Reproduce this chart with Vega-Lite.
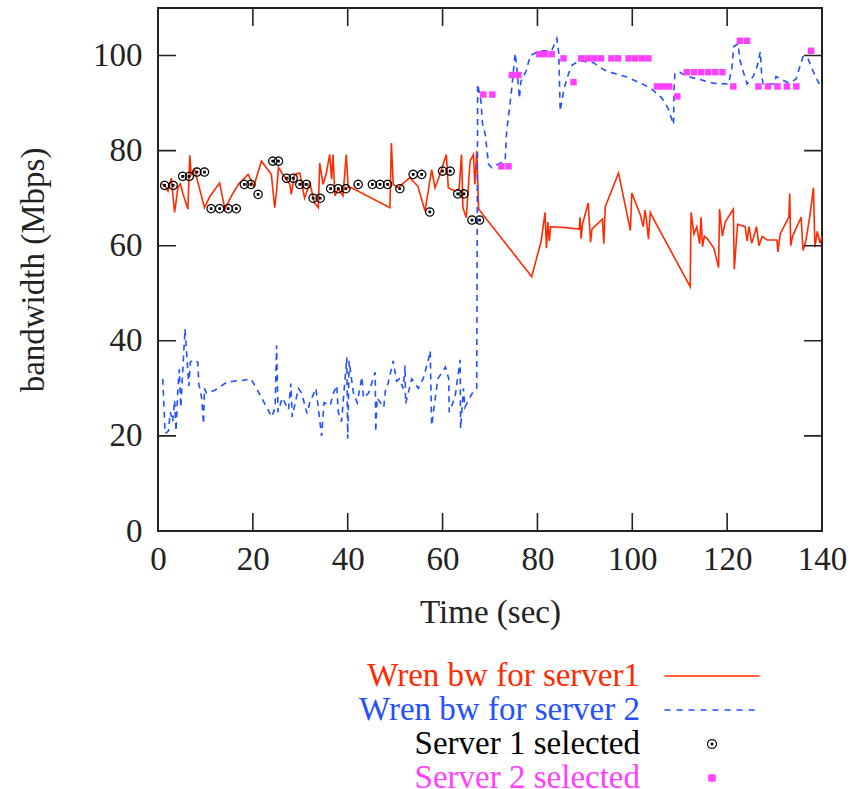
{
  "$schema": "https://vega.github.io/schema/vega-lite/v6.json",
  "width": 664,
  "height": 523,
  "autosize": {"type": "none"},
  "padding": {"left": 158, "top": 8, "right": 31, "bottom": 258},
  "background": "white",
  "config": {
    "view": {"stroke": "#222222", "strokeWidth": 2},
    "font": "Liberation Serif",
    "axis": {
      "grid": false,
      "domain": false,
      "ticks": false,
      "labelFont": "Liberation Serif",
      "labelFontSize": 33,
      "labelColor": "#222222",
      "labelFlush": false,
      "titleFont": "Liberation Serif",
      "titleFontSize": 33,
      "titleFontWeight": "normal",
      "titleColor": "#222222"
    },
    "legend": {
      "orient": "none",
      "legendX": 537.5,
      "legendY": 651.5,
      "title": null,
      "padding": 0,
      "labelFont": "Liberation Serif",
      "labelFontSize": 33,
      "labelAlign": "right",
      "labelOffset": -88.5,
      "labelLimit": 500,
      "rowPadding": 0
    }
  },
  "datasets": {
    "xt": [{"t": 0}, {"t": 20}, {"t": 40}, {"t": 60}, {"t": 80}, {"t": 100}, {"t": 120}, {"t": 140}],
    "yt": [{"v": 0}, {"v": 20}, {"v": 40}, {"v": 60}, {"v": 80}, {"v": 100}],
    "bw": [
      {"t": 0.8, "v": 73, "series": "Wren bw for server1"},
      {"t": 1.5, "v": 72.5, "series": "Wren bw for server1"},
      {"t": 2.1, "v": 71.5, "series": "Wren bw for server1"},
      {"t": 2.8, "v": 74.2, "series": "Wren bw for server1"},
      {"t": 3.5, "v": 67, "series": "Wren bw for server1"},
      {"t": 4.2, "v": 72.2, "series": "Wren bw for server1"},
      {"t": 4.7, "v": 73, "series": "Wren bw for server1"},
      {"t": 5.3, "v": 70.8, "series": "Wren bw for server1"},
      {"t": 6.3, "v": 67.7, "series": "Wren bw for server1"},
      {"t": 6.7, "v": 79, "series": "Wren bw for server1"},
      {"t": 7.0, "v": 75, "series": "Wren bw for server1"},
      {"t": 7.7, "v": 76, "series": "Wren bw for server1"},
      {"t": 8.5, "v": 73, "series": "Wren bw for server1"},
      {"t": 9.8, "v": 68, "series": "Wren bw for server1"},
      {"t": 11.0, "v": 70.5, "series": "Wren bw for server1"},
      {"t": 13.0, "v": 73.2, "series": "Wren bw for server1"},
      {"t": 14.1, "v": 67.7, "series": "Wren bw for server1"},
      {"t": 15.5, "v": 70.5, "series": "Wren bw for server1"},
      {"t": 17.0, "v": 73, "series": "Wren bw for server1"},
      {"t": 19.0, "v": 75, "series": "Wren bw for server1"},
      {"t": 19.5, "v": 74, "series": "Wren bw for server1"},
      {"t": 20.2, "v": 72.5, "series": "Wren bw for server1"},
      {"t": 21.8, "v": 77.8, "series": "Wren bw for server1"},
      {"t": 23.9, "v": 75, "series": "Wren bw for server1"},
      {"t": 24.6, "v": 68, "series": "Wren bw for server1"},
      {"t": 25.0, "v": 71.5, "series": "Wren bw for server1"},
      {"t": 25.4, "v": 76.5, "series": "Wren bw for server1"},
      {"t": 26.3, "v": 75, "series": "Wren bw for server1"},
      {"t": 27.8, "v": 72.9, "series": "Wren bw for server1"},
      {"t": 28.1, "v": 70.8, "series": "Wren bw for server1"},
      {"t": 28.8, "v": 75, "series": "Wren bw for server1"},
      {"t": 29.9, "v": 75.3, "series": "Wren bw for server1"},
      {"t": 30.9, "v": 70, "series": "Wren bw for server1"},
      {"t": 32.0, "v": 73.2, "series": "Wren bw for server1"},
      {"t": 33.0, "v": 69, "series": "Wren bw for server1"},
      {"t": 33.8, "v": 68, "series": "Wren bw for server1"},
      {"t": 34.1, "v": 77.4, "series": "Wren bw for server1"},
      {"t": 34.8, "v": 72.9, "series": "Wren bw for server1"},
      {"t": 35.5, "v": 75.3, "series": "Wren bw for server1"},
      {"t": 36.2, "v": 79.2, "series": "Wren bw for server1"},
      {"t": 36.6, "v": 74, "series": "Wren bw for server1"},
      {"t": 36.9, "v": 79.2, "series": "Wren bw for server1"},
      {"t": 37.3, "v": 70.5, "series": "Wren bw for server1"},
      {"t": 38.0, "v": 72, "series": "Wren bw for server1"},
      {"t": 39.0, "v": 70.5, "series": "Wren bw for server1"},
      {"t": 39.7, "v": 79.2, "series": "Wren bw for server1"},
      {"t": 40.1, "v": 72.2, "series": "Wren bw for server1"},
      {"t": 40.8, "v": 72.2, "series": "Wren bw for server1"},
      {"t": 48.9, "v": 68, "series": "Wren bw for server1"},
      {"t": 49.2, "v": 81.6, "series": "Wren bw for server1"},
      {"t": 49.6, "v": 72.9, "series": "Wren bw for server1"},
      {"t": 50.6, "v": 72.2, "series": "Wren bw for server1"},
      {"t": 53.1, "v": 74.3, "series": "Wren bw for server1"},
      {"t": 54.8, "v": 72.5, "series": "Wren bw for server1"},
      {"t": 56.3, "v": 67.3, "series": "Wren bw for server1"},
      {"t": 57.7, "v": 76, "series": "Wren bw for server1"},
      {"t": 58.4, "v": 72.2, "series": "Wren bw for server1"},
      {"t": 59.1, "v": 74, "series": "Wren bw for server1"},
      {"t": 60.8, "v": 79.2, "series": "Wren bw for server1"},
      {"t": 61.2, "v": 72.2, "series": "Wren bw for server1"},
      {"t": 62.6, "v": 71.5, "series": "Wren bw for server1"},
      {"t": 63.5, "v": 72, "series": "Wren bw for server1"},
      {"t": 64.0, "v": 79.2, "series": "Wren bw for server1"},
      {"t": 64.3, "v": 68, "series": "Wren bw for server1"},
      {"t": 65.0, "v": 65.9, "series": "Wren bw for server1"},
      {"t": 65.8, "v": 77.8, "series": "Wren bw for server1"},
      {"t": 66.5, "v": 79.2, "series": "Wren bw for server1"},
      {"t": 66.8, "v": 72.9, "series": "Wren bw for server1"},
      {"t": 67.2, "v": 79.9, "series": "Wren bw for server1"},
      {"t": 67.6, "v": 67.7, "series": "Wren bw for server1"},
      {"t": 78.8, "v": 53.5, "series": "Wren bw for server1"},
      {"t": 80.8, "v": 61, "series": "Wren bw for server1"},
      {"t": 81.6, "v": 67, "series": "Wren bw for server1"},
      {"t": 81.9, "v": 59.5, "series": "Wren bw for server1"},
      {"t": 82.2, "v": 65, "series": "Wren bw for server1"},
      {"t": 82.5, "v": 61, "series": "Wren bw for server1"},
      {"t": 82.8, "v": 64, "series": "Wren bw for server1"},
      {"t": 86.0, "v": 63.8, "series": "Wren bw for server1"},
      {"t": 88.8, "v": 63.5, "series": "Wren bw for server1"},
      {"t": 89.0, "v": 66, "series": "Wren bw for server1"},
      {"t": 89.2, "v": 61.5, "series": "Wren bw for server1"},
      {"t": 89.5, "v": 64.5, "series": "Wren bw for server1"},
      {"t": 90.7, "v": 69, "series": "Wren bw for server1"},
      {"t": 91.2, "v": 60.7, "series": "Wren bw for server1"},
      {"t": 91.5, "v": 63.5, "series": "Wren bw for server1"},
      {"t": 93.7, "v": 65.6, "series": "Wren bw for server1"},
      {"t": 94.0, "v": 60.4, "series": "Wren bw for server1"},
      {"t": 94.3, "v": 68.2, "series": "Wren bw for server1"},
      {"t": 97.1, "v": 75.3, "series": "Wren bw for server1"},
      {"t": 99.6, "v": 63.2, "series": "Wren bw for server1"},
      {"t": 99.9, "v": 71.1, "series": "Wren bw for server1"},
      {"t": 101.7, "v": 66.5, "series": "Wren bw for server1"},
      {"t": 102.3, "v": 64, "series": "Wren bw for server1"},
      {"t": 102.7, "v": 67.5, "series": "Wren bw for server1"},
      {"t": 103.0, "v": 65.4, "series": "Wren bw for server1"},
      {"t": 103.4, "v": 61.4, "series": "Wren bw for server1"},
      {"t": 103.8, "v": 67, "series": "Wren bw for server1"},
      {"t": 104.5, "v": 65.6, "series": "Wren bw for server1"},
      {"t": 112.2, "v": 51.4, "series": "Wren bw for server1"},
      {"t": 112.4, "v": 67, "series": "Wren bw for server1"},
      {"t": 113.0, "v": 62.5, "series": "Wren bw for server1"},
      {"t": 113.6, "v": 64, "series": "Wren bw for server1"},
      {"t": 114.2, "v": 60.4, "series": "Wren bw for server1"},
      {"t": 114.5, "v": 66, "series": "Wren bw for server1"},
      {"t": 114.8, "v": 59.8, "series": "Wren bw for server1"},
      {"t": 115.2, "v": 62, "series": "Wren bw for server1"},
      {"t": 115.8, "v": 61.5, "series": "Wren bw for server1"},
      {"t": 117.2, "v": 59.5, "series": "Wren bw for server1"},
      {"t": 118.2, "v": 55.4, "series": "Wren bw for server1"},
      {"t": 118.4, "v": 67.7, "series": "Wren bw for server1"},
      {"t": 119.0, "v": 62, "series": "Wren bw for server1"},
      {"t": 119.6, "v": 65, "series": "Wren bw for server1"},
      {"t": 121.3, "v": 67.7, "series": "Wren bw for server1"},
      {"t": 121.5, "v": 55, "series": "Wren bw for server1"},
      {"t": 122.2, "v": 64.5, "series": "Wren bw for server1"},
      {"t": 123.8, "v": 64, "series": "Wren bw for server1"},
      {"t": 124.2, "v": 61, "series": "Wren bw for server1"},
      {"t": 124.6, "v": 64, "series": "Wren bw for server1"},
      {"t": 125.2, "v": 60.5, "series": "Wren bw for server1"},
      {"t": 126.2, "v": 64, "series": "Wren bw for server1"},
      {"t": 126.7, "v": 60, "series": "Wren bw for server1"},
      {"t": 127.4, "v": 62, "series": "Wren bw for server1"},
      {"t": 128.4, "v": 61.2, "series": "Wren bw for server1"},
      {"t": 130.5, "v": 61.2, "series": "Wren bw for server1"},
      {"t": 130.7, "v": 58.7, "series": "Wren bw for server1"},
      {"t": 131.2, "v": 62.5, "series": "Wren bw for server1"},
      {"t": 133.0, "v": 66, "series": "Wren bw for server1"},
      {"t": 133.2, "v": 71, "series": "Wren bw for server1"},
      {"t": 133.4, "v": 60, "series": "Wren bw for server1"},
      {"t": 133.8, "v": 62, "series": "Wren bw for server1"},
      {"t": 135.6, "v": 66, "series": "Wren bw for server1"},
      {"t": 136.0, "v": 59, "series": "Wren bw for server1"},
      {"t": 136.6, "v": 61, "series": "Wren bw for server1"},
      {"t": 137.4, "v": 66, "series": "Wren bw for server1"},
      {"t": 138.2, "v": 72.2, "series": "Wren bw for server1"},
      {"t": 138.5, "v": 59.7, "series": "Wren bw for server1"},
      {"t": 139.0, "v": 63, "series": "Wren bw for server1"},
      {"t": 139.6, "v": 60.5, "series": "Wren bw for server1"},
      {"t": 140.0, "v": 62, "series": "Wren bw for server1"},

      {"t": 1.0, "v": 32, "series": "Wren bw for server 2"},
      {"t": 1.5, "v": 20.5, "series": "Wren bw for server 2"},
      {"t": 2.2, "v": 21, "series": "Wren bw for server 2"},
      {"t": 2.6, "v": 25, "series": "Wren bw for server 2"},
      {"t": 3.1, "v": 23, "series": "Wren bw for server 2"},
      {"t": 3.5, "v": 27.5, "series": "Wren bw for server 2"},
      {"t": 3.8, "v": 21, "series": "Wren bw for server 2"},
      {"t": 4.2, "v": 30, "series": "Wren bw for server 2"},
      {"t": 4.5, "v": 34, "series": "Wren bw for server 2"},
      {"t": 4.8, "v": 26, "series": "Wren bw for server 2"},
      {"t": 5.7, "v": 42.5, "series": "Wren bw for server 2"},
      {"t": 6.0, "v": 38, "series": "Wren bw for server 2"},
      {"t": 6.5, "v": 30.5, "series": "Wren bw for server 2"},
      {"t": 6.8, "v": 35.5, "series": "Wren bw for server 2"},
      {"t": 7.5, "v": 36, "series": "Wren bw for server 2"},
      {"t": 8.4, "v": 35.5, "series": "Wren bw for server 2"},
      {"t": 8.6, "v": 31, "series": "Wren bw for server 2"},
      {"t": 9.2, "v": 28, "series": "Wren bw for server 2"},
      {"t": 9.6, "v": 22.5, "series": "Wren bw for server 2"},
      {"t": 9.8, "v": 30, "series": "Wren bw for server 2"},
      {"t": 10.2, "v": 29, "series": "Wren bw for server 2"},
      {"t": 12.0, "v": 29.6, "series": "Wren bw for server 2"},
      {"t": 14.5, "v": 31.3, "series": "Wren bw for server 2"},
      {"t": 15.9, "v": 31.5, "series": "Wren bw for server 2"},
      {"t": 18.0, "v": 31.7, "series": "Wren bw for server 2"},
      {"t": 19.6, "v": 32, "series": "Wren bw for server 2"},
      {"t": 21.2, "v": 29.2, "series": "Wren bw for server 2"},
      {"t": 22.6, "v": 26.6, "series": "Wren bw for server 2"},
      {"t": 24.0, "v": 24, "series": "Wren bw for server 2"},
      {"t": 24.7, "v": 26, "series": "Wren bw for server 2"},
      {"t": 25.0, "v": 39, "series": "Wren bw for server 2"},
      {"t": 25.3, "v": 25, "series": "Wren bw for server 2"},
      {"t": 26.2, "v": 28, "series": "Wren bw for server 2"},
      {"t": 27.5, "v": 25.5, "series": "Wren bw for server 2"},
      {"t": 28.0, "v": 31, "series": "Wren bw for server 2"},
      {"t": 28.3, "v": 24, "series": "Wren bw for server 2"},
      {"t": 29.6, "v": 30, "series": "Wren bw for server 2"},
      {"t": 30.3, "v": 29, "series": "Wren bw for server 2"},
      {"t": 31.4, "v": 24.7, "series": "Wren bw for server 2"},
      {"t": 32.0, "v": 27, "series": "Wren bw for server 2"},
      {"t": 33.3, "v": 30, "series": "Wren bw for server 2"},
      {"t": 34.5, "v": 20, "series": "Wren bw for server 2"},
      {"t": 35.0, "v": 27, "series": "Wren bw for server 2"},
      {"t": 36.3, "v": 26.4, "series": "Wren bw for server 2"},
      {"t": 37.0, "v": 29, "series": "Wren bw for server 2"},
      {"t": 37.7, "v": 30.6, "series": "Wren bw for server 2"},
      {"t": 38.0, "v": 25, "series": "Wren bw for server 2"},
      {"t": 38.7, "v": 23, "series": "Wren bw for server 2"},
      {"t": 39.8, "v": 36.5, "series": "Wren bw for server 2"},
      {"t": 40.0, "v": 19.4, "series": "Wren bw for server 2"},
      {"t": 40.3, "v": 35.8, "series": "Wren bw for server 2"},
      {"t": 40.8, "v": 32, "series": "Wren bw for server 2"},
      {"t": 41.2, "v": 29, "series": "Wren bw for server 2"},
      {"t": 42.0, "v": 27, "series": "Wren bw for server 2"},
      {"t": 43.0, "v": 32.4, "series": "Wren bw for server 2"},
      {"t": 43.3, "v": 28, "series": "Wren bw for server 2"},
      {"t": 44.4, "v": 29, "series": "Wren bw for server 2"},
      {"t": 45.8, "v": 33.4, "series": "Wren bw for server 2"},
      {"t": 45.9, "v": 20.8, "series": "Wren bw for server 2"},
      {"t": 46.2, "v": 28, "series": "Wren bw for server 2"},
      {"t": 47.6, "v": 26, "series": "Wren bw for server 2"},
      {"t": 48.0, "v": 30, "series": "Wren bw for server 2"},
      {"t": 48.5, "v": 31, "series": "Wren bw for server 2"},
      {"t": 49.6, "v": 35.8, "series": "Wren bw for server 2"},
      {"t": 50.3, "v": 31.5, "series": "Wren bw for server 2"},
      {"t": 50.9, "v": 32, "series": "Wren bw for server 2"},
      {"t": 51.7, "v": 30, "series": "Wren bw for server 2"},
      {"t": 52.1, "v": 34.8, "series": "Wren bw for server 2"},
      {"t": 52.2, "v": 26.8, "series": "Wren bw for server 2"},
      {"t": 53.5, "v": 32, "series": "Wren bw for server 2"},
      {"t": 54.9, "v": 30, "series": "Wren bw for server 2"},
      {"t": 55.9, "v": 32, "series": "Wren bw for server 2"},
      {"t": 57.0, "v": 36, "series": "Wren bw for server 2"},
      {"t": 57.4, "v": 37.9, "series": "Wren bw for server 2"},
      {"t": 57.7, "v": 22.2, "series": "Wren bw for server 2"},
      {"t": 59.0, "v": 32, "series": "Wren bw for server 2"},
      {"t": 60.6, "v": 34.5, "series": "Wren bw for server 2"},
      {"t": 61.3, "v": 32, "series": "Wren bw for server 2"},
      {"t": 61.4, "v": 25, "series": "Wren bw for server 2"},
      {"t": 62.6, "v": 28, "series": "Wren bw for server 2"},
      {"t": 63.7, "v": 36, "series": "Wren bw for server 2"},
      {"t": 63.8, "v": 21.5, "series": "Wren bw for server 2"},
      {"t": 64.4, "v": 30, "series": "Wren bw for server 2"},
      {"t": 64.7, "v": 26, "series": "Wren bw for server 2"},
      {"t": 66.2, "v": 28.9, "series": "Wren bw for server 2"},
      {"t": 67.2, "v": 30, "series": "Wren bw for server 2"},
      {"t": 67.4, "v": 94, "series": "Wren bw for server 2"},
      {"t": 68.1, "v": 90.3, "series": "Wren bw for server 2"},
      {"t": 68.4, "v": 85.8, "series": "Wren bw for server 2"},
      {"t": 69.0, "v": 83.4, "series": "Wren bw for server 2"},
      {"t": 69.7, "v": 77.1, "series": "Wren bw for server 2"},
      {"t": 70.4, "v": 76.4, "series": "Wren bw for server 2"},
      {"t": 73.2, "v": 78, "series": "Wren bw for server 2"},
      {"t": 73.5, "v": 84, "series": "Wren bw for server 2"},
      {"t": 74.2, "v": 89.7, "series": "Wren bw for server 2"},
      {"t": 74.6, "v": 93.2, "series": "Wren bw for server 2"},
      {"t": 75.3, "v": 100.5, "series": "Wren bw for server 2"},
      {"t": 75.6, "v": 98, "series": "Wren bw for server 2"},
      {"t": 75.9, "v": 94.5, "series": "Wren bw for server 2"},
      {"t": 76.2, "v": 91, "series": "Wren bw for server 2"},
      {"t": 76.5, "v": 94.5, "series": "Wren bw for server 2"},
      {"t": 77.6, "v": 96.7, "series": "Wren bw for server 2"},
      {"t": 78.5, "v": 100, "series": "Wren bw for server 2"},
      {"t": 80.5, "v": 101, "series": "Wren bw for server 2"},
      {"t": 83.0, "v": 101, "series": "Wren bw for server 2"},
      {"t": 84.1, "v": 103.6, "series": "Wren bw for server 2"},
      {"t": 84.5, "v": 100.5, "series": "Wren bw for server 2"},
      {"t": 84.8, "v": 88.3, "series": "Wren bw for server 2"},
      {"t": 85.6, "v": 93, "series": "Wren bw for server 2"},
      {"t": 86.5, "v": 96, "series": "Wren bw for server 2"},
      {"t": 87.3, "v": 98, "series": "Wren bw for server 2"},
      {"t": 89.0, "v": 98.9, "series": "Wren bw for server 2"},
      {"t": 91.8, "v": 98.5, "series": "Wren bw for server 2"},
      {"t": 94.0, "v": 97, "series": "Wren bw for server 2"},
      {"t": 96.0, "v": 96.3, "series": "Wren bw for server 2"},
      {"t": 98.9, "v": 95.5, "series": "Wren bw for server 2"},
      {"t": 101.7, "v": 94.2, "series": "Wren bw for server 2"},
      {"t": 103.8, "v": 93.2, "series": "Wren bw for server 2"},
      {"t": 106.2, "v": 91.1, "series": "Wren bw for server 2"},
      {"t": 107.5, "v": 89, "series": "Wren bw for server 2"},
      {"t": 108.7, "v": 85.5, "series": "Wren bw for server 2"},
      {"t": 108.8, "v": 93, "series": "Wren bw for server 2"},
      {"t": 109.0, "v": 96.3, "series": "Wren bw for server 2"},
      {"t": 110.0, "v": 96.5, "series": "Wren bw for server 2"},
      {"t": 111.6, "v": 95.6, "series": "Wren bw for server 2"},
      {"t": 114.5, "v": 94.9, "series": "Wren bw for server 2"},
      {"t": 117.0, "v": 94.2, "series": "Wren bw for server 2"},
      {"t": 120.3, "v": 94, "series": "Wren bw for server 2"},
      {"t": 121.0, "v": 97.4, "series": "Wren bw for server 2"},
      {"t": 121.4, "v": 101.9, "series": "Wren bw for server 2"},
      {"t": 122.3, "v": 102.5, "series": "Wren bw for server 2"},
      {"t": 122.7, "v": 99, "series": "Wren bw for server 2"},
      {"t": 123.5, "v": 96.3, "series": "Wren bw for server 2"},
      {"t": 124.2, "v": 94, "series": "Wren bw for server 2"},
      {"t": 125.5, "v": 95.6, "series": "Wren bw for server 2"},
      {"t": 126.4, "v": 98, "series": "Wren bw for server 2"},
      {"t": 127.0, "v": 100.8, "series": "Wren bw for server 2"},
      {"t": 127.3, "v": 95.6, "series": "Wren bw for server 2"},
      {"t": 127.6, "v": 94, "series": "Wren bw for server 2"},
      {"t": 130.0, "v": 94, "series": "Wren bw for server 2"},
      {"t": 130.3, "v": 95.6, "series": "Wren bw for server 2"},
      {"t": 133.0, "v": 94.2, "series": "Wren bw for server 2"},
      {"t": 134.5, "v": 95, "series": "Wren bw for server 2"},
      {"t": 135.1, "v": 96.9, "series": "Wren bw for server 2"},
      {"t": 136.0, "v": 99.8, "series": "Wren bw for server 2"},
      {"t": 137.0, "v": 99.5, "series": "Wren bw for server 2"},
      {"t": 137.8, "v": 97.4, "series": "Wren bw for server 2"},
      {"t": 139.3, "v": 94.2, "series": "Wren bw for server 2"},
      {"t": 140.0, "v": 94, "series": "Wren bw for server 2"}
    ],
    "s1": [
      {"t": 1.4, "v": 72.7, "series": "Server 1 selected"},
      {"t": 3.2, "v": 72.7, "series": "Server 1 selected"},
      {"t": 5.2, "v": 74.6, "series": "Server 1 selected"},
      {"t": 6.6, "v": 74.6, "series": "Server 1 selected"},
      {"t": 8.2, "v": 75.5, "series": "Server 1 selected"},
      {"t": 9.8, "v": 75.5, "series": "Server 1 selected"},
      {"t": 11.2, "v": 67.8, "series": "Server 1 selected"},
      {"t": 13.0, "v": 67.8, "series": "Server 1 selected"},
      {"t": 14.8, "v": 67.8, "series": "Server 1 selected"},
      {"t": 16.5, "v": 67.8, "series": "Server 1 selected"},
      {"t": 18.2, "v": 72.9, "series": "Server 1 selected"},
      {"t": 19.6, "v": 72.9, "series": "Server 1 selected"},
      {"t": 21.1, "v": 70.8, "series": "Server 1 selected"},
      {"t": 24.2, "v": 77.8, "series": "Server 1 selected"},
      {"t": 25.4, "v": 77.8, "series": "Server 1 selected"},
      {"t": 27.1, "v": 74.2, "series": "Server 1 selected"},
      {"t": 28.5, "v": 74.2, "series": "Server 1 selected"},
      {"t": 29.9, "v": 72.9, "series": "Server 1 selected"},
      {"t": 31.3, "v": 72.9, "series": "Server 1 selected"},
      {"t": 32.7, "v": 70, "series": "Server 1 selected"},
      {"t": 34.2, "v": 70, "series": "Server 1 selected"},
      {"t": 36.4, "v": 72, "series": "Server 1 selected"},
      {"t": 38.0, "v": 72, "series": "Server 1 selected"},
      {"t": 39.6, "v": 72, "series": "Server 1 selected"},
      {"t": 42.2, "v": 72.9, "series": "Server 1 selected"},
      {"t": 45.2, "v": 72.9, "series": "Server 1 selected"},
      {"t": 46.8, "v": 72.9, "series": "Server 1 selected"},
      {"t": 48.4, "v": 72.9, "series": "Server 1 selected"},
      {"t": 51.0, "v": 72, "series": "Server 1 selected"},
      {"t": 53.8, "v": 75, "series": "Server 1 selected"},
      {"t": 55.6, "v": 75, "series": "Server 1 selected"},
      {"t": 57.3, "v": 67.1, "series": "Server 1 selected"},
      {"t": 60.0, "v": 75.7, "series": "Server 1 selected"},
      {"t": 61.6, "v": 75.7, "series": "Server 1 selected"},
      {"t": 63.2, "v": 70.9, "series": "Server 1 selected"},
      {"t": 64.5, "v": 70.9, "series": "Server 1 selected"},
      {"t": 66.2, "v": 65.4, "series": "Server 1 selected"},
      {"t": 67.8, "v": 65.4, "series": "Server 1 selected"}
    ],
    "s2": [
      {"t": 68.6, "v": 91.8, "series": "Server 2 selected"},
      {"t": 70.5, "v": 91.8, "series": "Server 2 selected"},
      {"t": 72.4, "v": 76.7, "series": "Server 2 selected"},
      {"t": 73.9, "v": 76.7, "series": "Server 2 selected"},
      {"t": 74.6, "v": 95.9, "series": "Server 2 selected"},
      {"t": 76.0, "v": 95.9, "series": "Server 2 selected"},
      {"t": 80.4, "v": 100.3, "series": "Server 2 selected"},
      {"t": 81.6, "v": 100.3, "series": "Server 2 selected"},
      {"t": 83.0, "v": 100.3, "series": "Server 2 selected"},
      {"t": 85.5, "v": 99.4, "series": "Server 2 selected"},
      {"t": 87.6, "v": 94.4, "series": "Server 2 selected"},
      {"t": 89.2, "v": 99.4, "series": "Server 2 selected"},
      {"t": 90.6, "v": 99.4, "series": "Server 2 selected"},
      {"t": 92.0, "v": 99.4, "series": "Server 2 selected"},
      {"t": 93.4, "v": 99.4, "series": "Server 2 selected"},
      {"t": 95.6, "v": 99.4, "series": "Server 2 selected"},
      {"t": 97.0, "v": 99.4, "series": "Server 2 selected"},
      {"t": 99.2, "v": 99.4, "series": "Server 2 selected"},
      {"t": 100.6, "v": 99.4, "series": "Server 2 selected"},
      {"t": 102.0, "v": 99.4, "series": "Server 2 selected"},
      {"t": 103.4, "v": 99.4, "series": "Server 2 selected"},
      {"t": 105.2, "v": 93.5, "series": "Server 2 selected"},
      {"t": 106.5, "v": 93.5, "series": "Server 2 selected"},
      {"t": 107.8, "v": 93.5, "series": "Server 2 selected"},
      {"t": 109.5, "v": 91.4, "series": "Server 2 selected"},
      {"t": 111.5, "v": 96.5, "series": "Server 2 selected"},
      {"t": 113.0, "v": 96.5, "series": "Server 2 selected"},
      {"t": 114.5, "v": 96.5, "series": "Server 2 selected"},
      {"t": 116.0, "v": 96.5, "series": "Server 2 selected"},
      {"t": 117.5, "v": 96.5, "series": "Server 2 selected"},
      {"t": 119.0, "v": 96.5, "series": "Server 2 selected"},
      {"t": 121.3, "v": 93.5, "series": "Server 2 selected"},
      {"t": 122.7, "v": 103.1, "series": "Server 2 selected"},
      {"t": 124.2, "v": 103.1, "series": "Server 2 selected"},
      {"t": 126.6, "v": 93.5, "series": "Server 2 selected"},
      {"t": 128.6, "v": 93.5, "series": "Server 2 selected"},
      {"t": 130.6, "v": 93.5, "series": "Server 2 selected"},
      {"t": 132.6, "v": 93.5, "series": "Server 2 selected"},
      {"t": 134.6, "v": 93.5, "series": "Server 2 selected"},
      {"t": 137.7, "v": 101, "series": "Server 2 selected"}
    ]
  },
  "layer": [
    {
      "data": {"name": "bw"},
      "mark": {"type": "line", "strokeWidth": 1.6, "clip": true},
      "encoding": {
        "x": {"field": "t", "type": "quantitative", "scale": {"domain": [0, 140]},
              "axis": {"orient": "bottom", "title": "Time (sec)", "values": [0, 20, 40, 60, 80, 100, 120, 140],
                       "labelPadding": 12, "titlePadding": 20}},
        "y": {"field": "v", "type": "quantitative", "scale": {"domain": [0, 110]},
              "axis": {"orient": "left", "title": "bandwidth (Mbps)", "values": [0, 20, 40, 60, 80, 100],
                       "labelPadding": 16, "titlePadding": 42}},
        "color": {"field": "series", "type": "nominal",
                  "scale": {"domain": ["Wren bw for server1", "Wren bw for server 2", "Server 1 selected", "Server 2 selected"],
                            "range": ["#ff2a00", "#2450ff", "#000000", "#ff40ff"]},
                  "legend": {
                    "encode": {
                      "symbols": {"update": {
                        "shape": {"signal": "datum.value === 'Server 1 selected' ? 'M0.9,0L0.832,0.345L0.636,0.636L0.345,0.832L0,0.9L-0.345,0.832L-0.636,0.636L-0.832,0.345L-0.9,0L-0.832,-0.345L-0.636,-0.636L-0.345,-0.832L0,-0.9L0.345,-0.832L0.636,-0.636L0.832,-0.345ZM-0.16,-0.16L0.16,-0.16L0.16,0.16L-0.16,0.16Z' : datum.value === 'Server 2 selected' ? 'M-0.6,-0.6L0.6,-0.6L0.6,0.6L-0.6,0.6Z' : 'M-9.5,0L9.5,0'"},
                        "size": {"value": 100},
                        "stroke": {"signal": "datum.value === 'Server 2 selected' ? 'transparent' : scale('color', datum.value)"},
                        "fill": {"signal": "datum.value === 'Server 2 selected' ? scale('color', datum.value) : 'transparent'"},
                        "fillOpacity": {"signal": "datum.value === 'Server 2 selected' ? 1 : 0"},
                        "strokeOpacity": {"value": 1},
                        "strokeDash": {"signal": "datum.value === 'Wren bw for server 2' ? [6, 6] : [1, 0]"},
                        "strokeWidth": {"signal": "datum.value === 'Server 1 selected' ? 1.1 : 1.5"},
                        "opacity": {"value": 1}
                      }},
                      "labels": {"update": {"fill": {"scale": "color", "field": "value"}}}
                    }
                  }},
        "strokeDash": {"field": "series", "type": "nominal",
                       "scale": {"domain": ["Wren bw for server1", "Wren bw for server 2"], "range": [[1, 0], [6, 5]]},
                       "legend": null}
      }
    },
    {
      "data": {"name": "s1"},
      "mark": {"type": "point",
               "shape": "M1,0L0.924,0.383L0.707,0.707L0.383,0.924L0,1L-0.383,0.924L-0.707,0.707L-0.924,0.383L-1,0L-0.924,-0.383L-0.707,-0.707L-0.383,-0.924L0,-1L0.383,-0.924L0.707,-0.707L0.924,-0.383ZM-0.18,-0.18L0.18,-0.18L0.18,0.18L-0.18,0.18Z",
               "filled": false, "size": 70, "strokeWidth": 1.2, "opacity": 1},
      "encoding": {
        "x": {"field": "t", "type": "quantitative", "axis": null},
        "y": {"field": "v", "type": "quantitative", "axis": null},
        "color": {"field": "series", "type": "nominal"}
      }
    },
    {
      "data": {"name": "s2"},
      "mark": {"type": "point", "shape": "square", "filled": true, "size": 42, "opacity": 1},
      "encoding": {
        "x": {"field": "t", "type": "quantitative", "axis": null},
        "y": {"field": "v", "type": "quantitative", "axis": null},
        "color": {"field": "series", "type": "nominal"}
      }
    },
    {
      "data": {"name": "xt"},
      "mark": {"type": "tick", "orient": "vertical", "size": 36, "thickness": 1.6, "color": "#222222", "opacity": 1, "clip": true},
      "encoding": {
        "x": {"field": "t", "type": "quantitative", "axis": null},
        "y": {"datum": 0, "type": "quantitative", "axis": null}
      }
    },
    {
      "data": {"name": "xt"},
      "mark": {"type": "tick", "orient": "vertical", "size": 36, "thickness": 1.6, "color": "#222222", "opacity": 1, "clip": true},
      "encoding": {
        "x": {"field": "t", "type": "quantitative", "axis": null},
        "y": {"datum": 110, "type": "quantitative", "axis": null}
      }
    },
    {
      "data": {"name": "yt"},
      "mark": {"type": "tick", "orient": "horizontal", "size": 36, "thickness": 1.6, "color": "#222222", "opacity": 1, "clip": true},
      "encoding": {
        "y": {"field": "v", "type": "quantitative", "axis": null},
        "x": {"datum": 0, "type": "quantitative", "axis": null}
      }
    },
    {
      "data": {"name": "yt"},
      "mark": {"type": "tick", "orient": "horizontal", "size": 36, "thickness": 1.6, "color": "#222222", "opacity": 1, "clip": true},
      "encoding": {
        "y": {"field": "v", "type": "quantitative", "axis": null},
        "x": {"datum": 140, "type": "quantitative", "axis": null}
      }
    }
  ],
  "resolve": {"axis": {"x": "independent", "y": "independent"}}
}
